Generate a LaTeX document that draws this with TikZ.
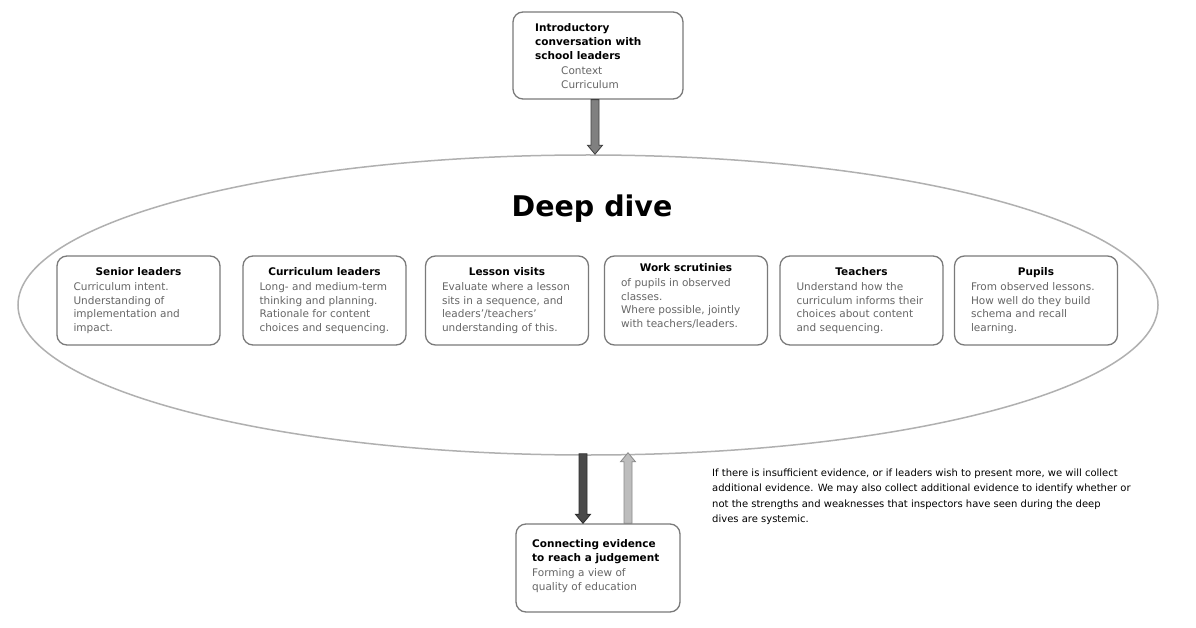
\documentclass[tikz,border=0pt]{standalone}
\usepackage{fontspec}
\setmainfont{DejaVu Sans}
\usetikzlibrary{shapes.geometric,calc}
\definecolor{boxline}{HTML}{7A7A7A}
\definecolor{ellline}{HTML}{B0B0B0}
\definecolor{bodygray}{HTML}{666666}
\definecolor{arrA}{HTML}{808080}
\definecolor{arrAd}{HTML}{404040}
\definecolor{arrB}{HTML}{4A4A4A}
\definecolor{arrBd}{HTML}{2E2E2E}
\definecolor{arrC}{HTML}{BDBDBD}
\definecolor{arrCd}{HTML}{8A8A8A}
\newcommand\blkarrow[4]{\path[#1] let \p1=(#2), \p2=(#3) in
  (\x1-4pt,\y1) -- (\x1+4pt,\y1) -- (\x1+4pt,{\y2+(#4pt)}) -- (\x1+7.5pt,{\y2+(#4pt)})
  -- (\x1,\y2) -- (\x1-7.5pt,{\y2+(#4pt)}) -- (\x1-4pt,{\y2+(#4pt)}) -- cycle;}
\tikzset{
  rbox/.style={draw=boxline, line width=1.3pt, rounded corners=10pt, minimum width=163pt, minimum height=89pt, inner sep=0pt},
  ttl/.style={font=\fontsize{10.5}{13.7}\selectfont\bfseries, inner sep=0pt, anchor=north},
  bdy/.style={font=\fontsize{10.5}{13.7}\selectfont, text=bodygray, inner sep=0pt, anchor=north west, align=left},
}
\begin{document}
\begin{tikzpicture}[x=1pt,y=-1pt]
\fill[white] (0,0) rectangle (1196,628);
\useasboundingbox (0,0) rectangle (1196,628);

% ellipse
\node[ellipse, draw=ellline, line width=1.5pt, minimum width=1140pt, minimum height=300pt, inner sep=0pt] (ell) at (588,305) {};
\node[font=\fontsize{28.5}{30}\selectfont\bfseries, inner sep=0pt, anchor=base] (dd) at (592,217) {Deep dive};

% top box
\node[rbox, minimum width=170pt, minimum height=87pt] (top) at (598,55.5) {};
\node[inner sep=0pt, anchor=north west, align=left, font=\fontsize{10.5}{14.3}\selectfont] (toptxt) at (535,23)
  {\bfseries Introductory\\ \bfseries conversation with\\ \bfseries school leaders\\
   \hspace*{26pt}\textcolor{bodygray}{Context}\\ \hspace*{26pt}\textcolor{bodygray}{Curriculum}};

% bottom box
\node[rbox, minimum width=164pt, minimum height=88pt] (bot) at (598,568) {};
\node[inner sep=0pt, anchor=north west, align=left, font=\fontsize{10.5}{14.6}\selectfont] (bottxt) at (532,539)
  {\bfseries Connecting evidence\\ \bfseries to reach a judgement\\
   \textcolor{bodygray}{Forming a view of}\\ \textcolor{bodygray}{quality of education}};

% inner boxes
\node[rbox] (b1) at (138.5,300.5) {};
\node[rbox] (b2) at (324.5,300.5) {};
\node[rbox] (b3) at (507,300.5) {};
\node[rbox] (b4) at (686,300.5) {};
\node[rbox] (b5) at (861.5,300.5) {};
\node[rbox] (b6) at (1036,300.5) {};

\node[ttl] (t1) at ($(b1.north)+(0,12)$) {Senior leaders};
\node[bdy] (d1) at ($(b1.north west)+(17,27)$) {Curriculum intent.\\Understanding of\\implementation and\\impact.};
\node[ttl] (t2) at ($(b2.north)+(0,12)$) {Curriculum leaders};
\node[bdy] (d2) at ($(b2.north west)+(17,27)$) {Long- and medium-term\\thinking and planning.\\Rationale for content\\choices and sequencing.};
\node[ttl] (t3) at ($(b3.north)+(0,12)$) {Lesson visits};
\node[bdy] (d3) at ($(b3.north west)+(17,27)$) {Evaluate where a lesson\\sits in a sequence, and\\leaders'/teachers'\\understanding of this.};
\node[ttl] (t4) at ($(b4.north)+(0,8)$) {Work scrutinies};
\node[bdy] (d4) at ($(b4.north west)+(17,23)$) {of pupils in observed\\classes.\\Where possible, jointly\\with teachers/leaders.};
\node[ttl] (t5) at ($(b5.north)+(0,12)$) {Teachers};
\node[bdy] (d5) at ($(b5.north west)+(17,27)$) {Understand how the\\curriculum informs their\\choices about content\\and sequencing.};
\node[ttl] (t6) at ($(b6.north)+(0,12)$) {Pupils};
\node[bdy] (d6) at ($(b6.north west)+(17,27)$) {From observed lessons.\\How well do they build\\schema and recall\\learning.};

% side note
\node[inner sep=0pt, anchor=north west, align=left, font=\fontsize{10}{15.5}\selectfont] (note) at (712,468.5)
  {If there is insufficient evidence, or if leaders wish to present more, we will collect\\
   additional evidence. We may also collect additional evidence to identify whether or\\
   not the strengths and weaknesses that inspectors have seen during the deep\\
   dives are systemic.};

% arrows
\coordinate (a1s) at ($(top.south)+(-3,0)$);
\coordinate (a1e) at (a1s |- ell.north);
\blkarrow{fill=arrA, draw=arrAd, line width=0.8pt}{a1s}{a1e}{9}

\coordinate (a2e) at ($(bot.north)+(-15,0)$);
\coordinate (a2s) at ($(a2e |- ell.south)+(0,-2)$);
\blkarrow{fill=arrB, draw=arrBd, line width=0.8pt}{a2s}{a2e}{9}

\coordinate (a3s) at ($(bot.north)+(30,0)$);
\coordinate (a3e) at ($(a3s |- ell.south)+(0,-3)$);
\blkarrow{fill=arrC, draw=arrCd, line width=0.8pt}{a3s}{a3e}{-9}
\end{tikzpicture}
\end{document}
